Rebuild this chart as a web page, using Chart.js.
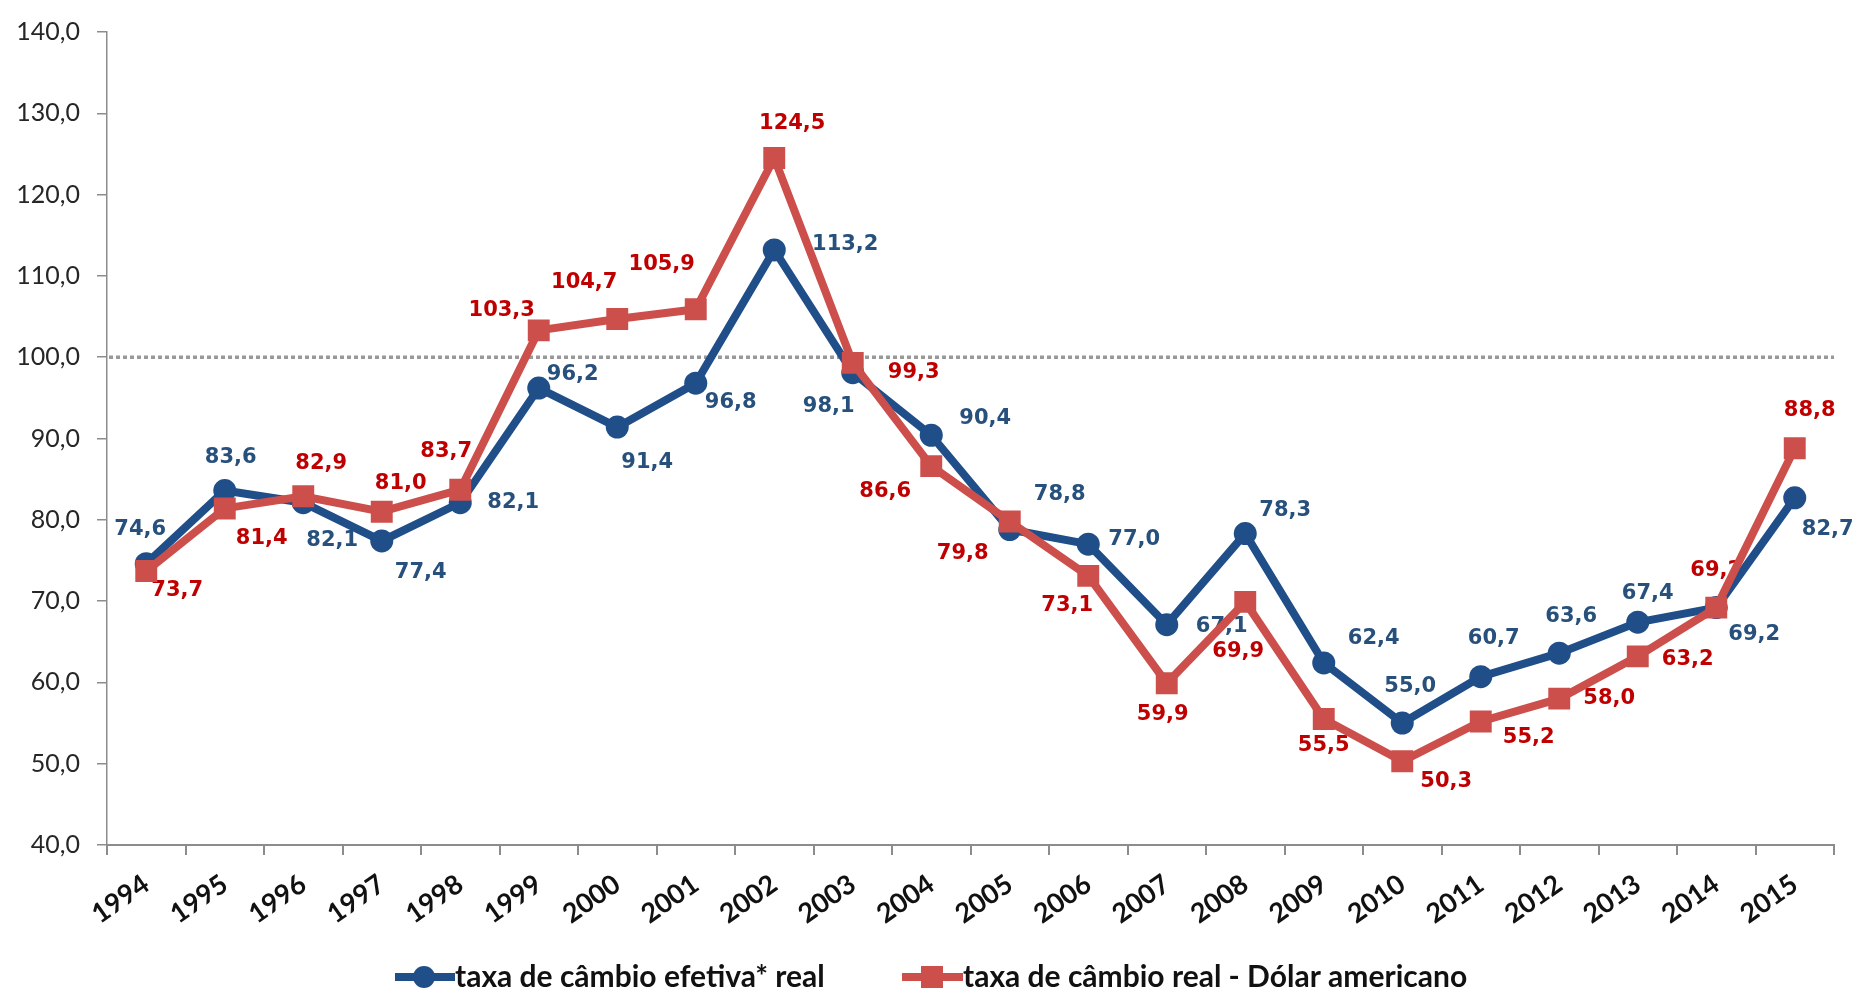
<!DOCTYPE html>
<html>
<head>
<meta charset="utf-8">
<script src="https://cdn.jsdelivr.net/npm/chart.js@4.4.1/dist/chart.umd.min.js"></script>
<style>
  html, body { margin: 0; padding: 0; background: #fff; }
  #wrap { width: 1857px; height: 993px; position: relative; }
</style>
</head>
<body>
<div id="wrap"><canvas id="chart"></canvas></div>
<script>
// values
const years = ['1994', '1995', '1996', '1997', '1998', '1999', '2000', '2001', '2002', '2003', '2004',
               '2005', '2006', '2007', '2008', '2009', '2010', '2011', '2012', '2013', '2014', '2015'];
const efetiva = [74.6, 83.6, 82.1, 77.4, 82.1, 96.2, 91.4, 96.8, 113.2, 98.1, 90.4,
                 78.8, 77.0, 67.1, 78.3, 62.4, 55.0, 60.7, 63.6, 67.4, 69.2, 82.7];
const dolar = [73.7, 81.4, 82.9, 81.0, 83.7, 103.3, 104.7, 105.9, 124.5, 99.3, 86.6,
               79.8, 73.1, 59.9, 69.9, 55.5, 50.3, 55.2, 58.0, 63.2, 69.2, 88.8];
const yMin = 40, yMax = 140, yStep = 10;
const refLine = 100;
const seriesNames = ['taxa de câmbio efetiva* real', 'taxa de câmbio real - Dólar americano'];

// where each value label sits relative to its point (px)
const efetivaLabelPos = [[-6,-34],[6,-33],[29,38],[39,32],[53,0],[34,-14],[30,35],[35,19],[71,-5],[-24,34],[54,-17],
                         [50,-35],[46,-5],[55,2],[40,-23],[50,-24],[8,-37],[13,-38],[12,-37],[10,-29],[38,27],[33,32]];
const dolarLabelPos = [[31,20],[37,30],[18,-33],[19,-28],[-14,-38],[-37,-20],[-33,-36],[-34,-45],[18,-34],[61,10],[-46,25],
                       [-47,32],[-21,30],[-4,31],[-7,50],[0,27],[44,20],[48,16],[50,0],[50,3],[0,-37],[15,-38]];

const BLUE = '#1f4e89';
const RED = '#cc4f4c';
const BLUE_TXT = '#27507c';
const RED_TXT = '#c00000';

const fmt = v => v.toFixed(1).replace('.', ',');

const refLinePlugin = {
  id: 'refLine',
  beforeDatasetsDraw(chart) {
    const { ctx, chartArea, scales } = chart;
    const y = scales.y.getPixelForValue(refLine);
    ctx.save();
    ctx.strokeStyle = '#999999';
    ctx.lineWidth = 3.5;
    ctx.setLineDash([4, 3]);
    ctx.beginPath();
    ctx.moveTo(chartArea.left + 2, y);
    ctx.lineTo(chartArea.right, y);
    ctx.stroke();
    ctx.restore();
  }
};

const valueLabels = {
  id: 'valueLabels',
  beforeDatasetsDraw(chart) {
    const ctx = chart.ctx;
    ctx.save();
    ctx.font = 'bold 21px "DejaVu Sans"';
    ctx.textAlign = 'center';
    ctx.textBaseline = 'middle';
    chart.data.datasets.forEach((ds, i) => {
      const meta = chart.getDatasetMeta(i);
      const pos = ds.labelPos;
      ctx.fillStyle = ds.labelColor;
      meta.data.forEach((pt, j) => {
        ctx.fillText(fmt(ds.data[j]), pt.x + pos[j][0], pt.y + pos[j][1]);
      });
    });
    ctx.restore();
  }
};

const legendBox = {
  id: 'legendBox',
  afterDraw(chart) {
    const ctx = chart.ctx;
    const y = 977;
    ctx.save();
    ctx.font = 'bold 30px Lato';
    ctx.textBaseline = 'middle';
    // blue entry
    ctx.strokeStyle = BLUE;
    ctx.lineWidth = 8;
    ctx.beginPath(); ctx.moveTo(395, y); ctx.lineTo(455, y); ctx.stroke();
    ctx.fillStyle = BLUE;
    ctx.beginPath(); ctx.arc(424, y, 11, 0, Math.PI * 2); ctx.fill();
    ctx.fillStyle = '#111';
    ctx.fillText(seriesNames[0], 455, y);
    // red entry
    ctx.strokeStyle = RED;
    ctx.beginPath(); ctx.moveTo(902, y); ctx.lineTo(963, y); ctx.stroke();
    ctx.fillStyle = RED;
    ctx.fillRect(932 - 11, y - 11, 22, 22);
    ctx.fillStyle = '#111';
    ctx.fillText(seriesNames[1], 963, y);
    ctx.restore();
  }
};

new Chart(document.getElementById('chart'), {
  type: 'line',
  data: {
    labels: years,
    datasets: [
      {
        label: seriesNames[0],
        data: efetiva,
        borderColor: BLUE,
        backgroundColor: BLUE,
        borderWidth: 8,
        pointStyle: 'circle',
        pointRadius: 11.5,
        pointBorderWidth: 0,
        pointBackgroundColor: BLUE,
        tension: 0,
        order: 1,
        labelPos: efetivaLabelPos,
        labelColor: BLUE_TXT
      },
      {
        label: seriesNames[1],
        data: dolar,
        borderColor: RED,
        backgroundColor: RED,
        borderWidth: 8,
        pointStyle: 'rect',
        pointRadius: 15.5,
        pointBorderWidth: 0,
        pointBackgroundColor: RED,
        tension: 0,
        order: 0,
        labelPos: dolarLabelPos,
        labelColor: RED_TXT
      }
    ]
  },
  options: {
    responsive: true,
    maintainAspectRatio: false,
    animation: false,
    layout: { padding: { top: 24, right: 23, left: 0, bottom: 0 } },
    plugins: {
      legend: { display: false },
      tooltip: { enabled: false }
    },
    scales: {
      x: {
        offset: true,
        grid: { offset: true, drawOnChartArea: false, drawTicks: true, tickLength: 10, color: '#8c8c8c', lineWidth: 2 },
        border: { display: true, color: '#8c8c8c', width: 2 },
        ticks: {
          minRotation: 35, maxRotation: 35, autoSkip: false,
          padding: 13,
          color: '#111',
          font: { family: 'Lato', weight: 'bold', size: 27 }
        },
        afterFit(scale) { scale.height = 148; }
      },
      y: {
        min: yMin, max: yMax,
        grid: { drawOnChartArea: false, drawTicks: true, tickLength: 10, color: '#8c8c8c', lineWidth: 1.5 },
        border: { display: true, color: '#8c8c8c', width: 1.5 },
        ticks: {
          stepSize: yStep,
          padding: 17,
          color: '#262626',
          font: { family: 'Lato', size: 25 },
          callback: v => fmt(v)
        },
        afterFit(scale) { scale.width = 107; }
      }
    }
  },
  plugins: [refLinePlugin, valueLabels, legendBox]
});
</script>
</body>
</html>
